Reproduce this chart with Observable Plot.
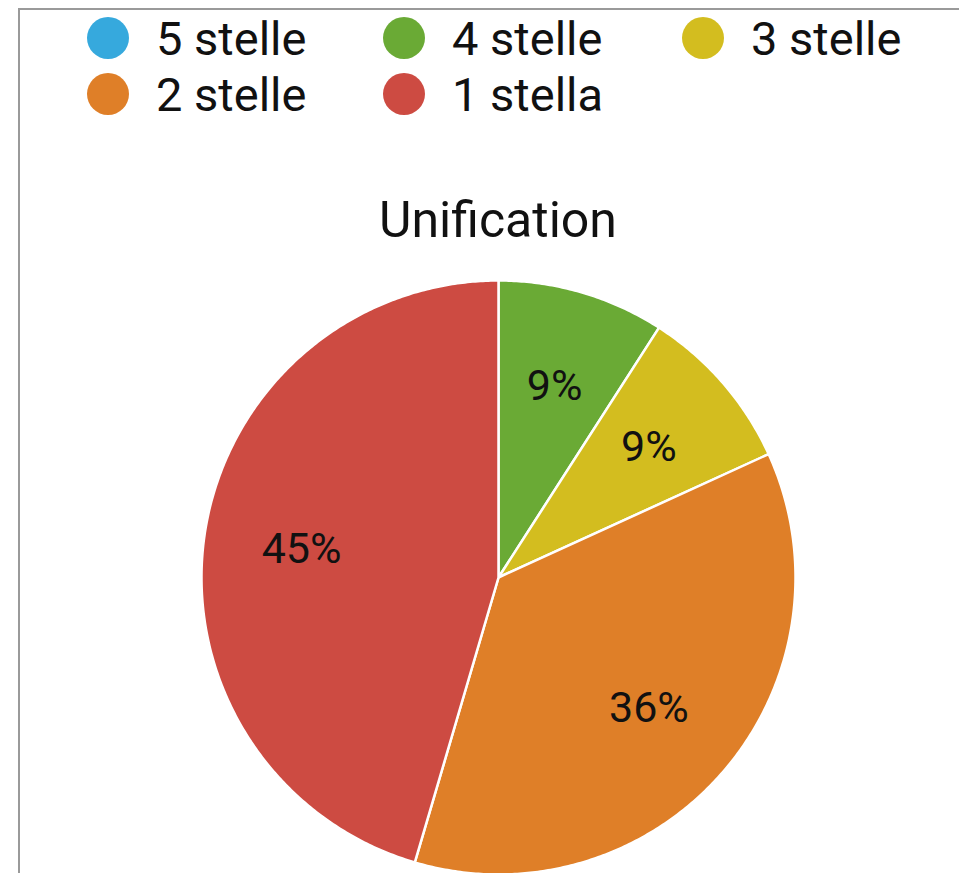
<!DOCTYPE html>
<html><head><meta charset="utf-8">
<script src="https://cdn.jsdelivr.net/npm/d3@7"></script>
<script src="https://cdn.jsdelivr.net/npm/@observablehq/plot@0.6"></script>
<style>
body{margin:0;background:#fff;}
#wrap{position:relative;width:959px;height:873px;overflow:hidden;font-family:Roboto,sans-serif;color:#111;}
#frame{position:absolute;left:18px;top:8px;width:1000px;height:900px;border-top:2px solid #9a9a9a;border-left:2px solid #9a9a9a;}
#chart{position:absolute;left:0;top:0;}
.dot{position:absolute;width:42px;height:42px;border-radius:50%;}
.lab{position:absolute;font-size:47px;line-height:1;white-space:nowrap;}
#title{position:absolute;font-size:50px;line-height:1;white-space:nowrap;transform:translateX(-50%);}
</style>
</head><body>
<div id="wrap"><div id="frame"></div><div id="chart"></div></div>
<script>
const title = "Unification";
const categories = ["5 stelle", "4 stelle", "3 stelle", "2 stelle", "1 stella"];
const counts = [0, 1, 1, 4, 5];
const colors = ["#36a9dd", "#6aaa35", "#d3bd1f", "#df7f28", "#cd4b42"];

const total = d3.sum(counts);
const slices = [];
let acc = 0;
categories.forEach((c, i) => {
  const a0 = acc / total * 2 * Math.PI;
  acc += counts[i];
  const a1 = acc / total * 2 * Math.PI;
  if (counts[i] > 0) slices.push({cat: c, a0, a1, value: counts[i]});
});
const pts = [];
for (const s of slices) {
  pts.push({cat: s.cat, x: 0, y: 0});
  const n = Math.max(2, Math.ceil((s.a1 - s.a0) / (Math.PI / 360)));
  for (let k = 0; k <= n; k++) {
    const a = s.a0 + (s.a1 - s.a0) * k / n;
    pts.push({cat: s.cat, x: Math.sin(a), y: Math.cos(a)});
  }
}
const labels = slices.map(s => {
  const m = (s.a0 + s.a1) / 2;
  return {x: 0.67 * Math.sin(m), y: 0.67 * Math.cos(m), text: Math.round(s.value / total * 100) + "%"};
});

const chart = Plot.plot({
  width: 959, height: 873, margin: 0,
  style: {fontFamily: "Roboto, sans-serif", background: "transparent"},
  x: {domain: [-1, 1], range: [201, 795], axis: null},
  y: {domain: [-1, 1], range: [874, 280], axis: null},
  color: {domain: categories, range: colors},
  marks: [
    Plot.line(pts, {x: "x", y: "y", z: "cat", fill: "cat", stroke: "white", strokeWidth: 2.5, curve: "linear-closed"}),
    Plot.text(labels, {x: "x", y: "y", text: "text", fontSize: 43, fill: "#111"})
  ]
});
document.getElementById("chart").appendChild(chart);

const wrap = document.getElementById("wrap");
const colX = [108, 404, 703], rowY = [38, 94];
categories.forEach((c, i) => {
  const cx = colX[i % 3], cy = rowY[Math.floor(i / 3)];
  const d = document.createElement("div");
  d.className = "dot";
  d.style.left = (cx - 21) + "px"; d.style.top = (cy - 21) + "px";
  d.style.background = colors[i];
  wrap.appendChild(d);
  const t = document.createElement("div");
  t.className = "lab";
  t.textContent = c;
  t.style.left = (cx + 48) + "px"; t.style.top = (cy - 23) + "px";
  wrap.appendChild(t);
});
const tt = document.createElement("div");
tt.id = "title"; tt.textContent = title;
tt.style.left = "498px"; tt.style.top = "195px";
wrap.appendChild(tt);
</script>
</body></html>
